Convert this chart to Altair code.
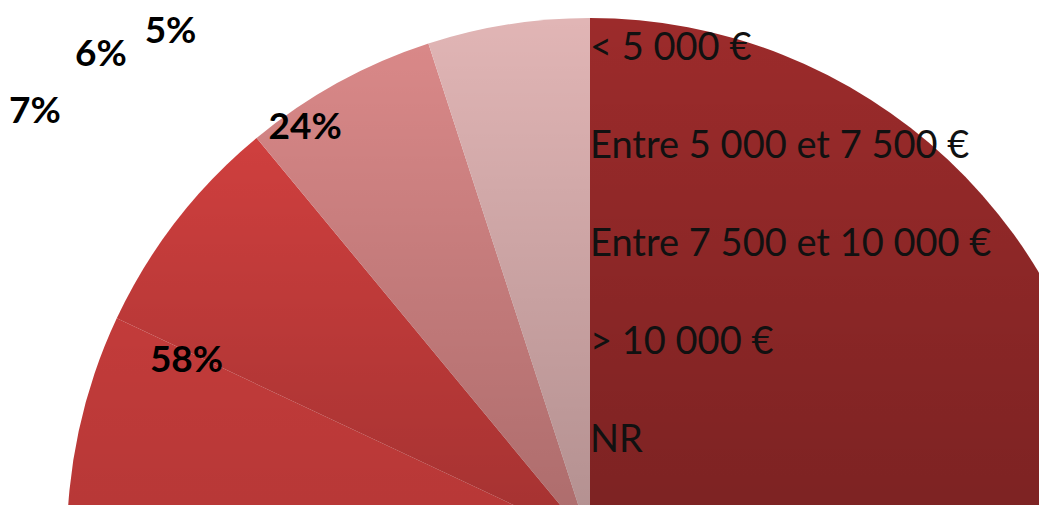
import altair as alt
import pandas as pd

categories = ["< 5 000 €", "Entre 5 000 et 7 500 €", "Entre 7 500 et 10 000 €", "> 10 000 €", "NR"]
values = [24, 58, 7, 6, 5]
labels = ["24%", "58%", "7%", "6%", "5%"]
order_idx = [0, 1, 2, 3, 4]
colors = ["#9C2B2B", "#C23B3A", "#CF3F3E", "#D98888", "#E1B5B5"]

df = pd.DataFrame({"category": categories, "value": values, "label": labels, "idx": order_idx})

theta = alt.Theta("value:Q", stack=True)
order = alt.Order("idx:Q", sort="ascending")
cx, cy = alt.value(582), alt.value(533)

base = alt.Chart(df)

slices = base.mark_arc(outerRadius=523).encode(
    theta=theta,
    order=order,
    x=cx,
    y=cy,
    color=alt.Color(
        "category:N",
        sort=categories,
        scale=alt.Scale(domain=categories, range=colors),
        legend=alt.Legend(
            orient="none", legendX=544, legendY=22, title=None,
            labelFontSize=38, labelFont="Lato", labelColor="#111111",
            symbolSize=0, symbolStrokeWidth=0, symbolOpacity=0,
            labelOffset=0, rowPadding=60, labelLimit=1000, padding=0,
        ),
    ),
)

shade = base.mark_arc(
    outerRadius=523,
    fill=alt.Gradient(
        gradient="linear", x1=0, y1=0, x2=0, y2=1,
        stops=[
            alt.GradientStop(color="rgba(0,0,0,0)", offset=0),
            alt.GradientStop(color="rgba(0,0,0,0.21)", offset=1),
        ],
    ),
).encode(theta=theta, order=order, detail="category:N", x=cx, y=cy)

inner = base.mark_text(
    radius=136, fontSize=37, fontWeight="bold", font="Lato", color="black",
    align="center", baseline="middle",
).encode(
    theta=theta, order=order, detail="category:N", x=alt.value(204), y=alt.value(219),
    text=alt.condition("datum.value > 10", alt.Text("label:N"), alt.value("")),
)

outer = base.mark_text(
    radius=214, fontSize=37, fontWeight="bold", font="Lato", color="black",
    align="center", baseline="middle",
).encode(
    theta=theta, order=order, detail="category:N", x=alt.value(196), y=alt.value(235),
    text=alt.condition("datum.value <= 10", alt.Text("label:N"), alt.value("")),
)

chart = alt.layer(slices, shade, inner, outer).properties(
    width=1031, height=497, padding=0,
    autosize=alt.AutoSizeParams(type="none"),
).configure_view(strokeWidth=0)

chart.save("out.html", embed_options={"renderer": "svg", "actions": False})
